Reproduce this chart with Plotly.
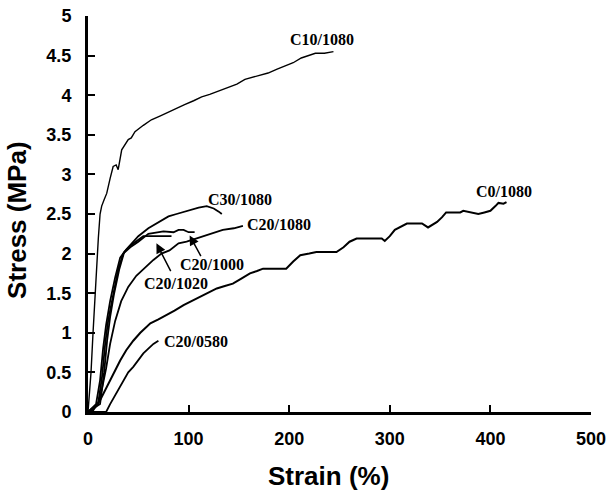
import plotly.graph_objects as go

# ---- data (strain %, stress MPa) ----
c10_x = [0, 3, 5, 7, 9, 10.3, 12, 13.6, 16, 18.6, 22, 25, 28, 30, 33.5, 37, 40, 43, 46.7, 55, 63, 72, 80, 88, 96, 105, 113, 121, 130, 139, 148, 156, 168, 179, 188, 196, 204, 212, 219, 226, 235, 244]
c10_y = [0, 0.5, 1.0, 1.5, 1.9, 2.2, 2.5, 2.6, 2.68, 2.76, 2.95, 3.1, 3.12, 3.06, 3.31, 3.38, 3.44, 3.46, 3.54, 3.62, 3.69, 3.74, 3.79, 3.84, 3.88, 3.93, 3.98, 4.01, 4.05, 4.09, 4.14, 4.2, 4.24, 4.28, 4.33, 4.37, 4.41, 4.47, 4.5, 4.53, 4.53, 4.55]

c30_x = [0, 8, 12, 15, 18, 22, 27, 32, 38, 45, 50, 60, 70, 80, 88, 96, 104, 110, 118, 125, 130, 133]
c30_y = [0, 0.1, 0.4, 0.8, 1.1, 1.4, 1.7, 1.95, 2.05, 2.15, 2.22, 2.32, 2.4, 2.47, 2.5, 2.53, 2.56, 2.58, 2.6, 2.57, 2.53, 2.5]

c2000_x = [0, 10, 14, 17, 20, 25, 30, 35, 42, 50, 60, 75, 85, 90, 95, 100, 106]
c2000_y = [0, 0.1, 0.45, 0.85, 1.15, 1.5, 1.8, 2.0, 2.08, 2.15, 2.25, 2.28, 2.27, 2.3, 2.3, 2.27, 2.27]

c2020_x = [0, 12, 16, 19, 22, 26, 31, 36, 42, 50, 55, 70, 83]
c2020_y = [0, 0.1, 0.5, 0.9, 1.2, 1.5, 1.8, 2.02, 2.1, 2.18, 2.22, 2.22, 2.22]

c2080_x = [0, 10, 14, 18, 22, 27, 33, 40, 48, 57, 65, 73, 81, 90, 98, 105, 115, 126, 134, 145, 154]
c2080_y = [0, 0.1, 0.3, 0.55, 0.86, 1.15, 1.4, 1.58, 1.72, 1.83, 1.92, 2.0, 2.04, 2.13, 2.15, 2.18, 2.22, 2.26, 2.3, 2.32, 2.35]

c0580_x = [0, 18, 22, 28, 35, 40, 45, 50, 55, 60, 65, 70]
c0580_y = [0, 0.0, 0.1, 0.23, 0.4, 0.5, 0.57, 0.65, 0.74, 0.8, 0.86, 0.9]

c0_x = [0, 5, 12, 17, 22, 27, 32, 38, 45, 52, 58, 62, 70, 78, 86, 95, 103, 111, 120, 128, 136, 144, 152, 161, 168, 174, 185, 197, 204, 211, 220, 227, 237, 247, 254, 260, 267, 280, 292, 295, 300, 305, 311, 317, 325, 332, 338, 342, 347, 352, 356, 364, 370, 373, 380, 388, 394, 400, 405, 408, 413, 416]
c0_y = [0, 0.02, 0.15, 0.28, 0.4, 0.53, 0.65, 0.78, 0.9, 1.0, 1.07, 1.12, 1.17, 1.22, 1.28, 1.35, 1.4, 1.45, 1.5, 1.56, 1.59, 1.62, 1.68, 1.75, 1.78, 1.81, 1.81, 1.81, 1.9, 1.98, 2.0, 2.02, 2.02, 2.02, 2.08, 2.15, 2.19, 2.19, 2.19, 2.16, 2.22, 2.3, 2.34, 2.38, 2.38, 2.38, 2.33, 2.36, 2.4, 2.46, 2.52, 2.52, 2.52, 2.54, 2.52, 2.5, 2.52, 2.54, 2.6, 2.64, 2.63, 2.65]

x_ticks = [0, 100, 200, 300, 400, 500]
y_ticks = [0, 0.5, 1, 1.5, 2, 2.5, 3, 3.5, 4, 4.5, 5]
y_tick_text = ["0", "0.5", "1", "1.5", "2", "2.5", "3", "3.5", "4", "4.5", "5"]

# labels: (text, x, y)
labels = [("C10/1080", 233, 4.70), ("C30/1080", 151, 2.68), ("C20/1080", 190, 2.37),
          ("C0/1080", 414, 2.78), ("C20/0580", 107, 0.89)]
arrow_labels = [("C20/1000", 123, 1.86, 113, 1.95, 101, 2.23),
                ("C20/1020", 87, 1.62, 83, 1.76, 68, 2.13)]

fig = go.Figure()
series = [(c10_x, c10_y, 1.4), (c30_x, c30_y, 1.8), (c2000_x, c2000_y, 1.8),
          (c2020_x, c2020_y, 1.8), (c2080_x, c2080_y, 1.8), (c0580_x, c0580_y, 1.8),
          (c0_x, c0_y, 2.0)]
for xs, ys, w in series:
    fig.add_trace(go.Scatter(x=xs, y=ys, mode="lines", line=dict(color="black", width=w),
                             showlegend=False, hoverinfo="skip"))

lab_font = dict(family="Liberation Serif, Times New Roman, serif", size=16, color="black")
for t, x, y in labels:
    fig.add_annotation(x=x, y=y, text="<b>%s</b>" % t, showarrow=False, font=lab_font)
for t, x, y, tx, ty, hx, hy in arrow_labels:
    fig.add_annotation(x=x, y=y, text="<b>%s</b>" % t, showarrow=False, font=lab_font)
    fig.add_annotation(x=hx, y=hy, ax=tx, ay=ty, axref="x", ayref="y", xref="x", yref="y",
                       text="", showarrow=True, arrowhead=2, arrowsize=1.3, arrowwidth=1.5,
                       arrowcolor="black")

fig.add_annotation(xref="paper", yref="paper", x=0.479, y=-0.161, xanchor="center",
                   yanchor="middle", text="<b>Strain (%)</b>", showarrow=False,
                   font=dict(family="Liberation Sans, Arial", size=26, color="black"))
fig.add_annotation(xref="paper", yref="paper", x=-0.14, y=0.484, xanchor="center",
                   yanchor="middle", textangle=-90,
                   text="<b>Stress (MPa)</b>", showarrow=False,
                   font=dict(family="Liberation Sans, Arial", size=26, color="black"))

tick_font = dict(family="Liberation Sans, Arial", size=18, color="black")
fig.update_xaxes(range=[0, 500], tickvals=x_ticks, ticktext=["<b>%d</b>" % v for v in x_ticks],
                 showline=True, linecolor="black", linewidth=3, ticks="inside", ticklen=7,
                 tickwidth=2, tickcolor="black", showgrid=False, zeroline=False,
                 tickfont=tick_font, ticklabelstandoff=8, automargin=False,
                 ticklabeloverflow="allow")
fig.update_yaxes(range=[0, 5], tickvals=y_ticks, ticktext=["<b>%s</b>" % s for s in y_tick_text],
                 showline=True, linecolor="black", linewidth=3, ticks="inside", ticklen=7,
                 tickwidth=2, tickcolor="black", showgrid=False, zeroline=False,
                 tickfont=tick_font, ticklabelstandoff=10, automargin=False,
                 ticklabeloverflow="allow")
fig.update_layout(width=609, height=494, margin=dict(l=88, r=18, t=16, b=82),
                  plot_bgcolor="white", paper_bgcolor="white")
fig.write_html("out.html", config={"displayModeBar": False},
               post_script="document.body.style.margin='0';")
